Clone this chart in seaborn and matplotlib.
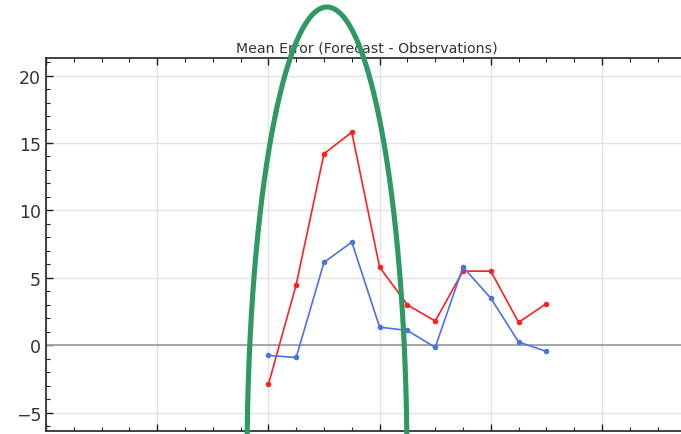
import numpy as np
import pandas as pd
import matplotlib
matplotlib.use("Agg")
import matplotlib.pyplot as plt
import seaborn as sns
from matplotlib.ticker import MultipleLocator

# Lead-time index of each verification step
steps = [8, 9, 10, 11, 12, 13, 14, 15, 16, 17, 18]
# Mean error per step for the two forecast runs
error_red = [-2.9, 4.5, 14.2, 15.8, 5.8, 3.0, 1.8, 5.5, 5.5, 1.7, 3.1]
error_blue = [-0.75, -0.9, 6.15, 7.65, 1.35, 1.1, -0.15, 5.8, 3.5, 0.25, -0.45]

df = pd.concat([
    pd.DataFrame({"step": steps, "error": error_red, "run": "red"}),
    pd.DataFrame({"step": steps, "error": error_blue, "run": "blue"}),
])

sns.set_theme(style="white")
plt.rcParams["font.family"] = ["DejaVu Sans"]

W, H = 681, 435
fig = plt.figure(figsize=(W / 100, H / 100), dpi=100)

# axes extends slightly past the right edge of the canvas
left_px, top_px, bottom_px, right_px = 46, 59, 432, 688
px_per_step = 27.8
xmin = 0
xmax = (right_px - left_px) / px_per_step
ax = fig.add_axes([left_px / W, 1 - bottom_px / H,
                   (right_px - left_px) / W, (bottom_px - top_px) / H])

sns.lineplot(data=df, x="step", y="error", hue="run",
             palette={"red": "#ff2020", "blue": "#4c72e6"},
             marker="o", markersize=4, markeredgewidth=0, linewidth=1.2,
             legend=False, ax=ax)

ax.axhline(0, color="#a0a0a0", linewidth=1.3, zorder=1)
ax.set_xlim(xmin, xmax)
ax.set_ylim(-6.35, 21.3)
ax.xaxis.set_major_locator(MultipleLocator(4))
ax.xaxis.set_minor_locator(MultipleLocator(1))
ax.yaxis.set_major_locator(MultipleLocator(5))
ax.yaxis.set_minor_locator(MultipleLocator(1))
ax.grid(True, which="major", color="#e3e3e3", linewidth=1.0)
ax.tick_params(which="both", direction="in", top=True, bottom=True,
               left=True, right=True, colors="#222222")
ax.tick_params(which="major", length=5, width=1.0, labelsize=12.5,
               labelcolor="#333333")
ax.tick_params(which="minor", length=3, width=0.8)
ax.tick_params(axis="x", labelbottom=False)
for s in ax.spines.values():
    s.set_color("#333333")
    s.set_linewidth(1.3)
ax.set_xlabel("")
ax.set_ylabel("")
ax.set_title("Mean Error (Forecast - Observations)", fontsize=10.2,
             color="#333333", pad=5)

# hand-drawn highlight arch over the peak, in canvas pixel units
over = fig.add_axes([0, 0, 1, 1], facecolor="none")
over.set_xlim(0, W)
over.set_ylim(H, 0)
over.axis("off")
t = np.linspace(0, np.pi, 400)
cx, cy, rx, ry = 327, 465, 80, 457
over.plot(cx + rx * np.cos(t), cy - ry * np.sin(t),
          color="#2e9962", linewidth=3.7, solid_capstyle="butt")

fig.savefig("out.png", dpi=100)
